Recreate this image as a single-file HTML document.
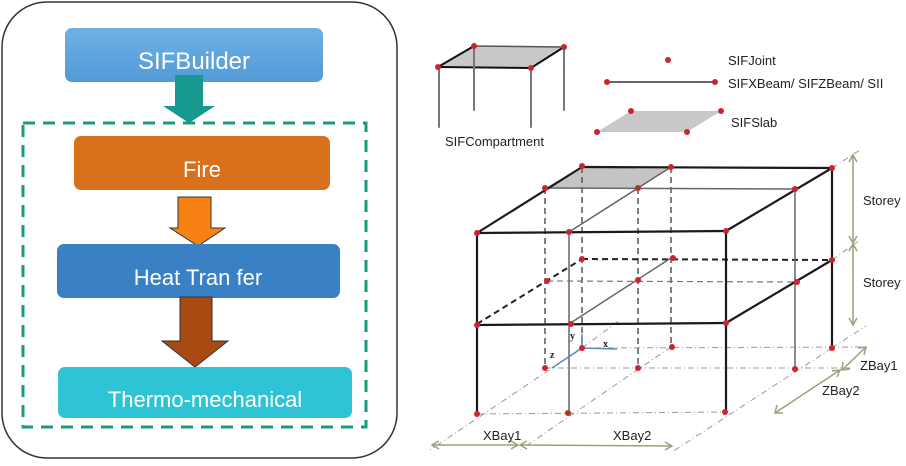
<!DOCTYPE html>
<html><head><meta charset="utf-8"><style>
body{margin:0;background:#fff;width:906px;height:466px;overflow:hidden}
svg{display:block}
.t{font-family:"Liberation Sans",sans-serif}
</style></head><body>
<svg width="906" height="466" viewBox="0 0 906 466" xmlns="http://www.w3.org/2000/svg">
<defs>
<linearGradient id="g1" x1="0" y1="0" x2="0" y2="1"><stop offset="0" stop-color="#6db0e4"/><stop offset="1" stop-color="#539bd8"/></linearGradient>
</defs>
<!-- left panel -->
<rect x="2" y="2" width="395" height="456" rx="45" fill="#fff" stroke="#333" stroke-width="1.5"/>
<rect x="65" y="28" width="258" height="54" rx="7" fill="url(#g1)"/>
<text x="194" y="69" class="t" font-size="24" fill="#fff" text-anchor="middle">SIFBuilder</text>
<polygon points="175,75 203,75 203,106 215,106 189,123 163,106 175,106" fill="#17998f"/>
<rect x="23" y="123" width="343" height="304" fill="none" stroke="#1a9a80" stroke-width="3" stroke-dasharray="12,8"/>
<rect x="74" y="136" width="256" height="54" rx="7" fill="#d9711c"/>
<text x="202" y="177" class="t" font-size="22" fill="#fff" text-anchor="middle">Fire</text>
<polygon points="178,197 211,197 211,228 225,228 198,246 170,228 178,228" fill="#f58213" stroke="#333" stroke-width="1"/>
<rect x="57" y="244" width="283" height="54" rx="7" fill="#3a80c4"/>
<text x="198" y="285" class="t" font-size="22" fill="#fff" text-anchor="middle">Heat Tran  fer</text>
<polygon points="180,297 212,297 212,341 228,341 195,367 162,341 180,341" fill="#a84a12" stroke="#333" stroke-width="1"/>
<rect x="58" y="367" width="294" height="51" rx="7" fill="#2ec4d6"/>
<text x="205" y="407" class="t" font-size="22" fill="#fff" text-anchor="middle">Thermo-mechanical</text>

<!-- legend -->
<g stroke-linecap="round">
<polygon points="438,67 474,46 564,47 531,68" fill="#c8c8c8"/>
<line x1="438" y1="67" x2="474" y2="46" stroke="#111" stroke-width="2"/>
<line x1="474" y1="46" x2="564" y2="47" stroke="#555" stroke-width="1.5"/>
<line x1="564" y1="47" x2="531" y2="68" stroke="#111" stroke-width="2"/>
<line x1="438" y1="67" x2="531" y2="68" stroke="#111" stroke-width="2"/>
<line x1="439" y1="67" x2="439" y2="127" stroke="#777" stroke-width="2"/>
<line x1="474" y1="46" x2="474" y2="110" stroke="#777" stroke-width="2"/>
<line x1="531" y1="68" x2="531" y2="127" stroke="#777" stroke-width="2"/>
<line x1="564" y1="47" x2="564" y2="110" stroke="#777" stroke-width="2"/>
<line x1="607" y1="82" x2="715" y2="82" stroke="#333" stroke-width="1.5"/>
<polygon points="631,111 721,111 687,132 597,132" fill="#c8c8c8"/>
</g>
<g fill="#d0222e">
<circle cx="438" cy="67" r="3"/><circle cx="474" cy="46" r="3"/><circle cx="564" cy="47" r="3"/><circle cx="531" cy="68" r="3"/>
<circle cx="668" cy="60" r="3"/><circle cx="607" cy="82" r="3"/><circle cx="715" cy="82" r="3"/>
<circle cx="631" cy="111" r="3"/><circle cx="721" cy="111" r="3"/><circle cx="687" cy="132" r="3"/><circle cx="597" cy="132" r="3"/>
</g>
<text x="728" y="65" class="t" font-size="13" fill="#222">SIFJoint</text>
<text x="728" y="88" class="t" font-size="13" fill="#222">SIFXBeam/ SIFZBeam/ SII</text>
<text x="731" y="127" class="t" font-size="13" fill="#222">SIFSlab</text>
<text x="445" y="146" class="t" font-size="13" fill="#222">SIFCompartment</text>

<!-- ground dash-dot -->
<g stroke="#999" stroke-width="1" stroke-dasharray="6,3,1,3" fill="none">
<line x1="477" y1="414" x2="725" y2="412"/>
<line x1="545" y1="368" x2="850" y2="368"/>
<line x1="582" y1="348" x2="866" y2="347"/>
<line x1="582" y1="348" x2="430" y2="450"/>
<line x1="671" y1="347" x2="520" y2="450"/>
<line x1="832" y1="348" x2="672" y2="452"/>
<line x1="832" y1="168" x2="860" y2="150"/>
<line x1="832" y1="260" x2="860" y2="240"/>
<line x1="832" y1="348" x2="866" y2="326"/>
<line x1="582" y1="348" x2="620" y2="320"/>
</g>
<!-- slab -->
<polygon points="545,188 582,167 671,167 638,188" fill="#c4c4c4"/>
<!-- dashed verticals -->
<g stroke="#555" stroke-width="1.5" stroke-dasharray="6,4">
<line x1="545" y1="188" x2="545" y2="368"/>
<line x1="582" y1="167" x2="582" y2="348"/>
<line x1="638" y1="188" x2="638" y2="368"/>
<line x1="671" y1="167" x2="671" y2="347"/>
<line x1="547" y1="281" x2="797" y2="282" stroke="#777" stroke-width="1.2"/>
<line x1="582" y1="259" x2="832" y2="260" stroke="#222" stroke-width="2"/>
<line x1="477" y1="324" x2="582" y2="259" stroke="#222" stroke-width="2"/>
</g>
<!-- gray solid -->
<g stroke="#666" stroke-width="1.5">
<line x1="545" y1="188" x2="795" y2="189"/>
<line x1="569" y1="232" x2="671" y2="167"/>
<line x1="569" y1="324" x2="671" y2="258"/>
<line x1="569" y1="232" x2="569" y2="413"/>
<line x1="795" y1="189" x2="795" y2="369"/>
</g>
<!-- black solid -->
<g stroke="#1a1a1a" stroke-width="2.2" fill="none">
<line x1="477" y1="233" x2="726" y2="231"/>
<line x1="582" y1="167" x2="832" y2="168"/>
<line x1="477" y1="233" x2="582" y2="167"/>
<line x1="726" y1="231" x2="832" y2="168"/>
<line x1="477" y1="233" x2="477" y2="414"/>
<line x1="726" y1="231" x2="726" y2="412"/>
<line x1="832" y1="168" x2="832" y2="348"/>
<line x1="477" y1="325" x2="726" y2="323"/>
<line x1="726" y1="323" x2="832" y2="260"/>
</g>
<!-- axes -->
<g stroke="#5b86c0" stroke-width="1.5">
<line x1="582" y1="348" x2="582" y2="334"/>
<line x1="582" y1="348" x2="617" y2="349"/>
<line x1="582" y1="348" x2="552" y2="368"/>
</g>
<text x="570" y="339" font-family="Liberation Serif,serif" font-size="10" font-weight="bold" fill="#222">y</text>
<text x="603" y="347" font-family="Liberation Serif,serif" font-size="10" font-weight="bold" fill="#222">x</text>
<text x="550" y="358" font-family="Liberation Serif,serif" font-size="10" font-weight="bold" fill="#222">z</text>
<!-- joints -->
<g fill="#d0222e">
<circle cx="477" cy="233" r="3"/><circle cx="569" cy="232" r="3"/><circle cx="726" cy="231" r="3"/>
<circle cx="477" cy="325" r="3"/><circle cx="571" cy="324" r="3"/><circle cx="726" cy="323" r="3"/>
<circle cx="477" cy="414" r="3"/><circle cx="568" cy="413" r="3" fill="#a83a20"/><circle cx="725" cy="412" r="3"/>
<circle cx="582" cy="166" r="3"/><circle cx="671" cy="167" r="3"/><circle cx="832" cy="168" r="3"/>
<circle cx="545" cy="188" r="3"/><circle cx="638" cy="188" r="3" fill="#a83a20"/><circle cx="795" cy="189" r="3"/>
<circle cx="582" cy="259" r="3"/><circle cx="673" cy="258" r="3"/><circle cx="832" cy="260" r="3"/>
<circle cx="547" cy="281" r="3"/><circle cx="638" cy="280" r="3"/><circle cx="797" cy="282" r="3"/>
<circle cx="582" cy="348" r="3"/><circle cx="672" cy="347" r="3"/><circle cx="832" cy="348" r="3"/>
<circle cx="545" cy="368" r="3"/><circle cx="638" cy="368" r="3"/><circle cx="795" cy="369" r="3"/>
</g>
<!-- dimension arrows -->
<g stroke="#9aa07a" stroke-width="1.5" fill="none">
<line x1="853" y1="156" x2="853" y2="242"/><polyline points="849,162 853,155 857,162"/><polyline points="849,236 853,243 857,236"/>
<line x1="853" y1="245" x2="853" y2="324"/><polyline points="849,251 853,244 857,251"/><polyline points="849,318 853,325 857,318"/>
<line x1="866" y1="347" x2="842" y2="370"/><polyline points="858,348 866,347 864,355"/><polyline points="843,362 842,370 850,369"/>
<line x1="840" y1="370" x2="775" y2="413"/><polyline points="832,371 840,370 837,377"/><polyline points="777,405 775,413 783,413"/>
<line x1="432" y1="445" x2="518" y2="445"/><polyline points="439,441 432,445 439,449"/><polyline points="511,441 518,445 511,449"/>
<line x1="520" y1="445" x2="672" y2="446"/><polyline points="527,441 520,445 527,449"/><polyline points="665,442 672,446 665,450"/>
</g>
<text x="863" y="205" class="t" font-size="13" fill="#222">Storey</text>
<text x="863" y="287" class="t" font-size="13" fill="#222">Storey</text>
<text x="860" y="370" class="t" font-size="13" fill="#222">ZBay1</text>
<text x="822" y="395" class="t" font-size="13" fill="#222">ZBay2</text>
<text x="483" y="440" class="t" font-size="13" fill="#222">XBay1</text>
<text x="613" y="440" class="t" font-size="13" fill="#222">XBay2</text>
</svg>
</body></html>
